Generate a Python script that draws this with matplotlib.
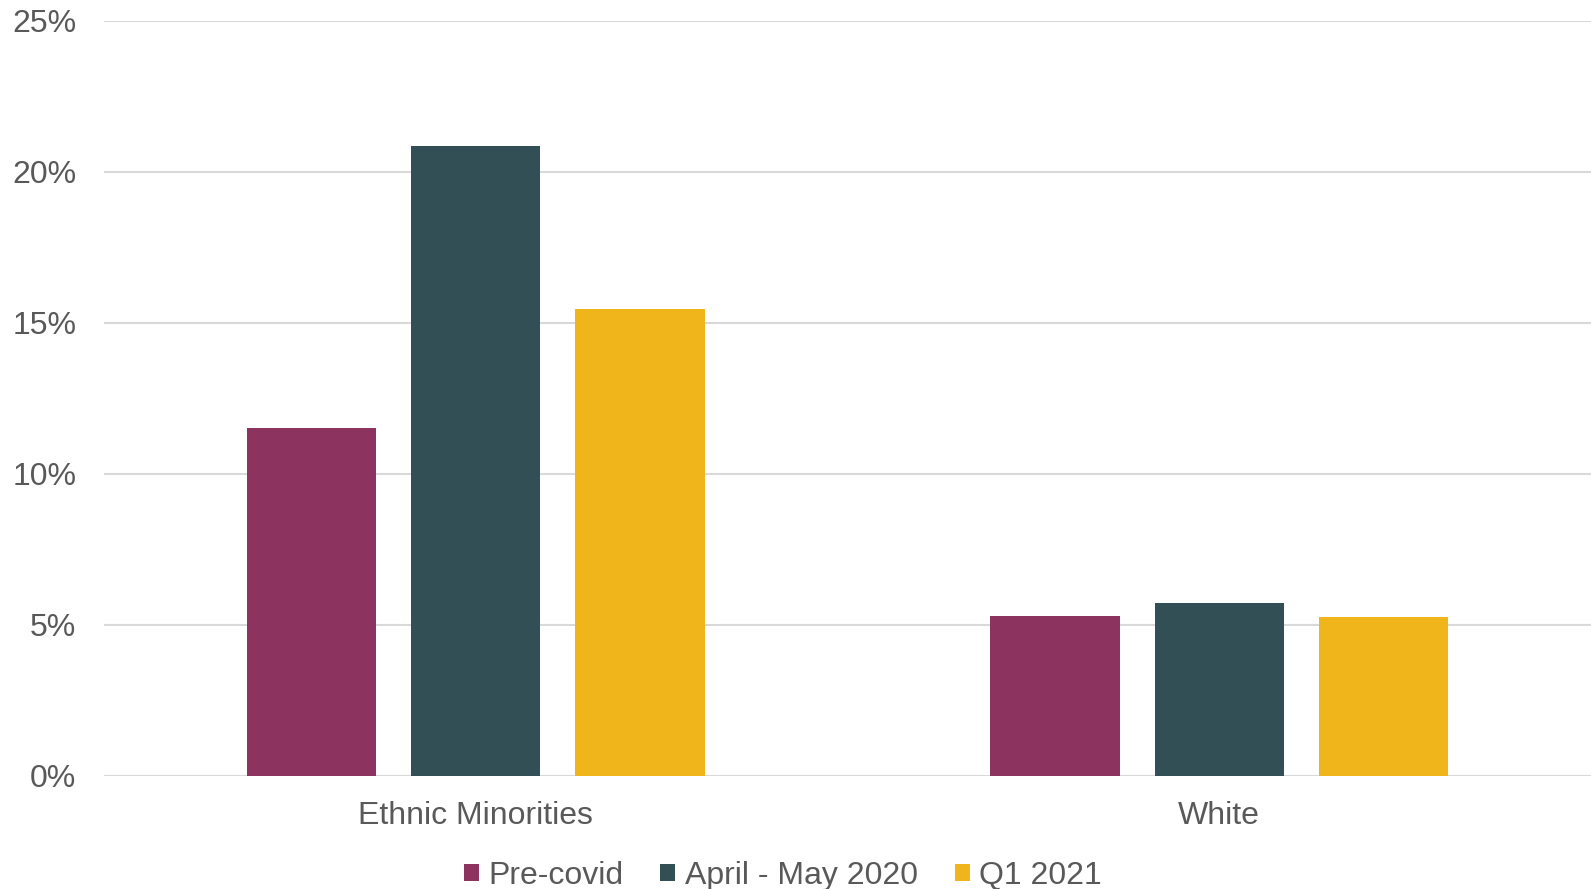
import numpy as np
import matplotlib
matplotlib.use('Agg')
from matplotlib import pyplot as plt
from matplotlib.patches import Patch
from matplotlib.ticker import FuncFormatter

groups = ['Ethnic Minorities', 'White']
series = ['Pre-covid', 'April - May 2020', 'Q1 2021']
pre_covid = [11.5, 5.3]
april_may_2020 = [20.85, 5.7]
q1_2021 = [15.45, 5.25]
colors = ['#8C3360', '#324F55', '#F0B51A']
yticks = [0, 5, 10, 15, 20, 25]

plt.rcParams['font.family'] = ['Liberation Sans', 'DejaVu Sans']
text_color = '#595959'

fig = plt.figure(figsize=(15.91, 8.89), dpi=100)
ax = fig.add_axes([104 / 1591, 113.5 / 889, 1 - 104 / 1591, 754.5 / 889])

x = np.arange(len(groups))
step, width = 0.221, 0.174
for i, (vals, col) in enumerate(zip([pre_covid, april_may_2020, q1_2021], colors)):
    ax.bar(x + (i - 1) * step, vals, width, color=col, zorder=3, label=series[i])

ax.set_xlim(-0.5, 1.5)
ax.set_ylim(0, 25)
ax.set_yticks(yticks)
ax.yaxis.set_major_formatter(FuncFormatter(lambda v, p: f'{v:.0f}%'))
ax.grid(axis='y', color='#d9d9d9', linewidth=1.5, zorder=0)
ax.set_axisbelow(True)
for s in ax.spines.values():
    s.set_visible(False)
ax.set_xticks(x)
ax.set_xticklabels(groups)
ax.tick_params(axis='y', length=0, pad=20, labelsize=23, labelcolor=text_color)
ax.tick_params(axis='x', length=0, pad=18, labelsize=23, labelcolor=text_color)

handles = [Patch(facecolor=c, edgecolor='none') for c in colors]
fig.legend(handles, series, loc='center', bbox_to_anchor=(783 / 1591, 1 - 876 / 889),
           ncol=3, frameon=False, fontsize=23, labelcolor=text_color,
           handlelength=0.47, handleheight=0.47, handletextpad=0.3,
           columnspacing=1.15, borderpad=0, borderaxespad=0)

plt.savefig('out.png', dpi=100)
